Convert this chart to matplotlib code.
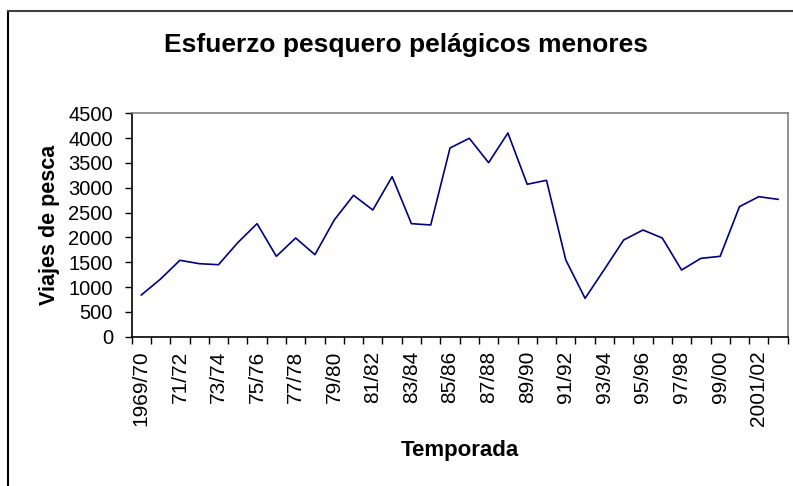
import matplotlib
matplotlib.use("Agg")
import matplotlib.pyplot as plt
from matplotlib.lines import Line2D

plt.rcParams['font.family'] = ['Liberation Sans', 'DejaVu Sans']

seasons = ["1969/70", "70/71", "71/72", "72/73", "73/74", "74/75", "75/76", "76/77",
           "77/78", "78/79", "79/80", "80/81", "81/82", "82/83", "83/84", "84/85",
           "85/86", "86/87", "87/88", "88/89", "89/90", "90/91", "91/92", "92/93",
           "93/94", "94/95", "95/96", "96/97", "97/98", "98/99", "99/00", "2000/01",
           "2001/02", "2002/03"]
viajes = [840, 1162, 1539, 1471, 1450, 1894, 2277, 1619, 1988, 1652, 2351, 2848,
          2552, 3223, 2277, 2250, 3801, 3996, 3505, 4103, 3070, 3150, 1545, 773,
          1357, 1948, 2149, 1988, 1343, 1578, 1619, 2619, 2820, 2767]
yticks = [0, 500, 1000, 1500, 2000, 2500, 3000, 3500, 4000, 4500]

fig = plt.figure(figsize=(7.93, 4.86), dpi=100)
ax = fig.add_axes([0.166, 0.3072, 0.8273, 0.4597])

n = len(viajes)
x = [i + 0.5 for i in range(n)]
ax.plot(x, viajes, color='#000080', linewidth=1.2)

ax.set_xlim(0, n)
ax.set_ylim(0, 4500)
ax.set_yticks(yticks)
ax.set_yticklabels([str(v) for v in yticks], fontsize=14.5)
ax.set_xticks(range(n + 1))
ax.set_xticklabels([])
ax.set_xticks(x, minor=True)
ax.set_xticklabels([s if i % 2 == 0 else "" for i, s in enumerate(seasons)],
                   minor=True, rotation=90, fontsize=15)
ax.tick_params(axis='x', which='minor', length=0, pad=10)
ax.tick_params(axis='x', which='major', length=5, width=1, direction='out')
ax.tick_params(axis='y', length=5, width=1, direction='out', pad=8.5)

for side in ['top', 'right']:
    ax.spines[side].set_color('#808080')
    ax.spines[side].set_linewidth(1.2)
for side in ['left', 'bottom']:
    ax.spines[side].set_color('black')
    ax.spines[side].set_linewidth(1.2)

ax.set_xlabel('Temporada', fontsize=16, fontweight='bold', labelpad=10)
ax.set_ylabel('Viajes de pesca', fontsize=15.5, fontweight='bold', labelpad=6)

fig.text(0.512, 0.907, 'Esfuerzo pesquero pelágicos menores', ha='center', va='center',
         fontsize=19, fontweight='bold')

# figure border
fig.add_artist(Line2D([8/793, 8/793], [0, 1 - 11/486], transform=fig.transFigure,
                      color='black', linewidth=1.5))
fig.add_artist(Line2D([8/793, 1], [1 - 11/486, 1 - 11/486], transform=fig.transFigure,
                      color='#404040', linewidth=1.5))

fig.savefig('out.png', dpi=100)
